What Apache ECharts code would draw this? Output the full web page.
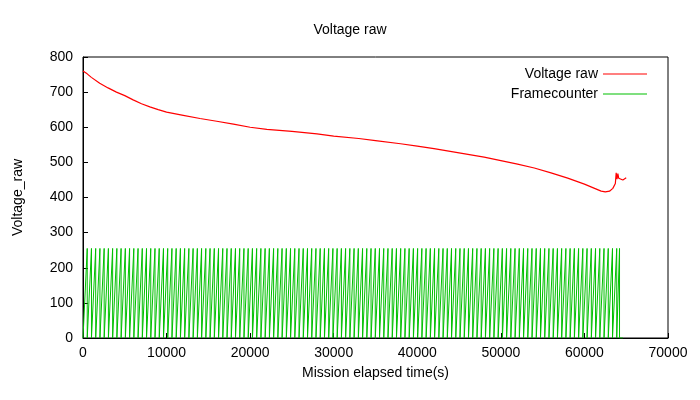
<!DOCTYPE html>
<html><head><meta charset="utf-8">
<script src="https://cdn.jsdelivr.net/npm/echarts@6/dist/echarts.min.js"></script>
<style>html,body{margin:0;background:#fff}#c{width:700px;height:400px}</style>
</head><body><div id="c"></div>
<script>
// Voltage raw readings (time s, raw value)
const voltTimes = [0,500,1000,2000,3000,4000,5000,6000,7000,8000,9000,10000,12000,14000,16000,18000,20000,22000,25000,28000,30000,33000,35000,38000,40000,42000,45000,48000,50000,52000,54000,56000,58000,60000,61000,62000,62500,63000,63400,63700,63800,63900,64000,64100,64300,64600,65000];
const voltValues = [760,752,742,725,712,700,690,678,667,658,650,643,634,625,617,609,600,594,588,581,575,568,562,553,546,539,527,515,505,495,484,470,455,438,428,418,416,418,426,440,470,452,468,455,452,450,456];
// Frame counter: 8-bit counter (0..255), one frame every ~1.98 s; one reading at each wrap boundary
const frameSeconds = 1.98, counterMin = 0, counterMax = 255, frameEnd = 64200;
const frameTimes = [], frameValues = [];
for (let t0 = 0; t0 < frameEnd; t0 += 256*frameSeconds) {
  frameTimes.push(t0, Math.min(t0 + 255*frameSeconds, frameEnd));
  frameValues.push(counterMin, counterMax);
}
frameTimes.push(frameEnd, 64600); frameValues.push(0, 0);

const chart = echarts.init(document.getElementById('c'));
const font = 'Liberation Sans';
chart.setOption({
  animation:false,
  title:{text:'Voltage raw',left:'center',top:18,textStyle:{fontFamily:font,fontSize:14,fontWeight:'normal',color:'#000'}},
  legend:{right:48,top:62,orient:'vertical',align:'right',itemWidth:44,itemHeight:1,itemGap:6,icon:'rect',
    textStyle:{fontFamily:font,fontSize:14,color:'#000'},data:['Voltage raw','Framecounter']},
  grid:{left:83,right:32,top:57,bottom:62,show:true,borderColor:'#000',borderWidth:1},
  xAxis:{type:'value',min:0,max:70000,interval:10000,name:'Mission elapsed time(s)',nameLocation:'middle',nameGap:28,
    nameTextStyle:{fontFamily:font,fontSize:14,color:'#000'},
    axisLine:{lineStyle:{color:'#000'}},axisTick:{inside:true,length:5,lineStyle:{color:'#000'}},
    axisLabel:{fontFamily:font,fontSize:14,color:'#000',margin:8,formatter:v=>String(v)},splitLine:{show:false}},
  yAxis:{type:'value',min:0,max:800,interval:100,name:'Voltage_raw',nameLocation:'middle',nameGap:58,
    nameTextStyle:{fontFamily:font,fontSize:14,color:'#000'},
    axisLine:{show:true,lineStyle:{color:'#000'}},axisTick:{inside:true,length:5,lineStyle:{color:'#000'}},
    axisLabel:{fontFamily:font,fontSize:14,color:'#000',margin:10},splitLine:{show:false}},
  series:[
    {name:'Voltage raw',type:'line',showSymbol:false,color:'#ff0000',lineStyle:{width:1.2},
      data:voltTimes.map((t,i)=>[t,voltValues[i]]),z:3},
    {name:'Framecounter',type:'line',showSymbol:false,color:'#00c000',lineStyle:{width:1},
      data:frameTimes.map((t,i)=>[t,frameValues[i]]),z:2}
  ]
});
</script></body></html>
